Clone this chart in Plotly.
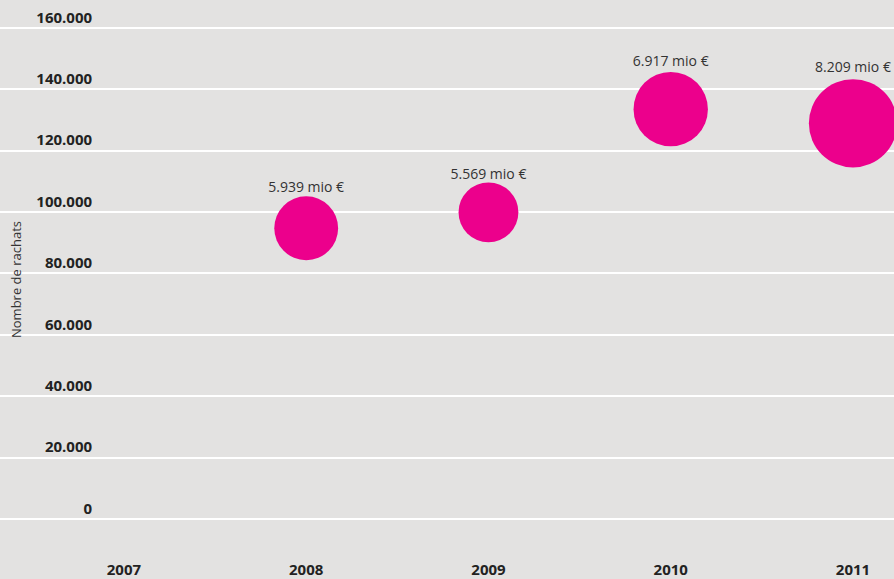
import plotly.graph_objects as go

years = [2008, 2009, 2010, 2011]
rachats = [94700, 99900, 133500, 128900]
montants = [5.939, 5.569, 6.917, 8.209]
labels = ["5.939 mio €", "5.569 mio €", "6.917 mio €", "8.209 mio €"]
x_ticks = [2007, 2008, 2009, 2010, 2011]
y_ticks = [0, 20000, 40000, 60000, 80000, 100000, 120000, 140000, 160000]
y_ticklabels = ["0", "20.000", "40.000", "60.000", "80.000", "100.000", "120.000", "140.000", "160.000"]

BG = "#e3e2e1"
PINK = "#ec008c"
FONT = "Open Sans"
PX_PER_MIO = 10.75  # bubble diameter in px per million euro

fig = go.Figure()
# bubbles
fig.add_trace(go.Scatter(
    x=years, y=rachats,
    mode="markers",
    marker=dict(size=montants, sizemode="diameter", sizeref=1 / PX_PER_MIO,
                color=PINK, line=dict(width=0), opacity=1),
    cliponaxis=True,
    hoverinfo="skip",
))
# labels above bubbles (invisible slightly smaller markers to tighten the gap)
fig.add_trace(go.Scatter(
    x=years, y=rachats,
    mode="markers+text",
    text=labels,
    textposition="top center",
    textfont=dict(family=FONT, size=14, color="#333333"),
    marker=dict(size=[m * PX_PER_MIO - 13 for m in montants], sizemode="diameter",
                color=PINK, opacity=0),
    cliponaxis=False,
    hoverinfo="skip",
))

fig.update_layout(
    width=894, height=579,
    paper_bgcolor=BG, plot_bgcolor=BG,
    margin=dict(l=0, r=0, t=0, b=20, pad=0, autoexpand=False),
    showlegend=False,
    xaxis=dict(
        domain=[0, 1],
        range=[2006.320, 2011.225],
        tickvals=x_ticks, ticktext=[str(v) for v in x_ticks],
        showgrid=False, zeroline=False, showline=False, ticks="",
        automargin=False,
        tickfont=dict(family=FONT, size=15, color="#222222", weight="bold"),
    ),
    yaxis=dict(
        anchor="free", position=0.103, side="left",
        range=[-13030, 169055],
        tickvals=y_ticks, ticktext=y_ticklabels,
        ticklabelposition="outside top",
        showgrid=True, gridcolor="white", gridwidth=2,
        zeroline=False, showline=False, ticks="",
        automargin=False,
        tickfont=dict(family=FONT, size=15, color="#222222", weight="bold"),
        title=dict(text="Nombre de rachats", standoff=10,
                   font=dict(family=FONT, size=13, color="#333333")),
    ),
)

fig.write_html(
    "out.html",
    config={"displayModeBar": False},
    post_script="document.body.style.margin='0';document.body.style.overflow='hidden';",
)
